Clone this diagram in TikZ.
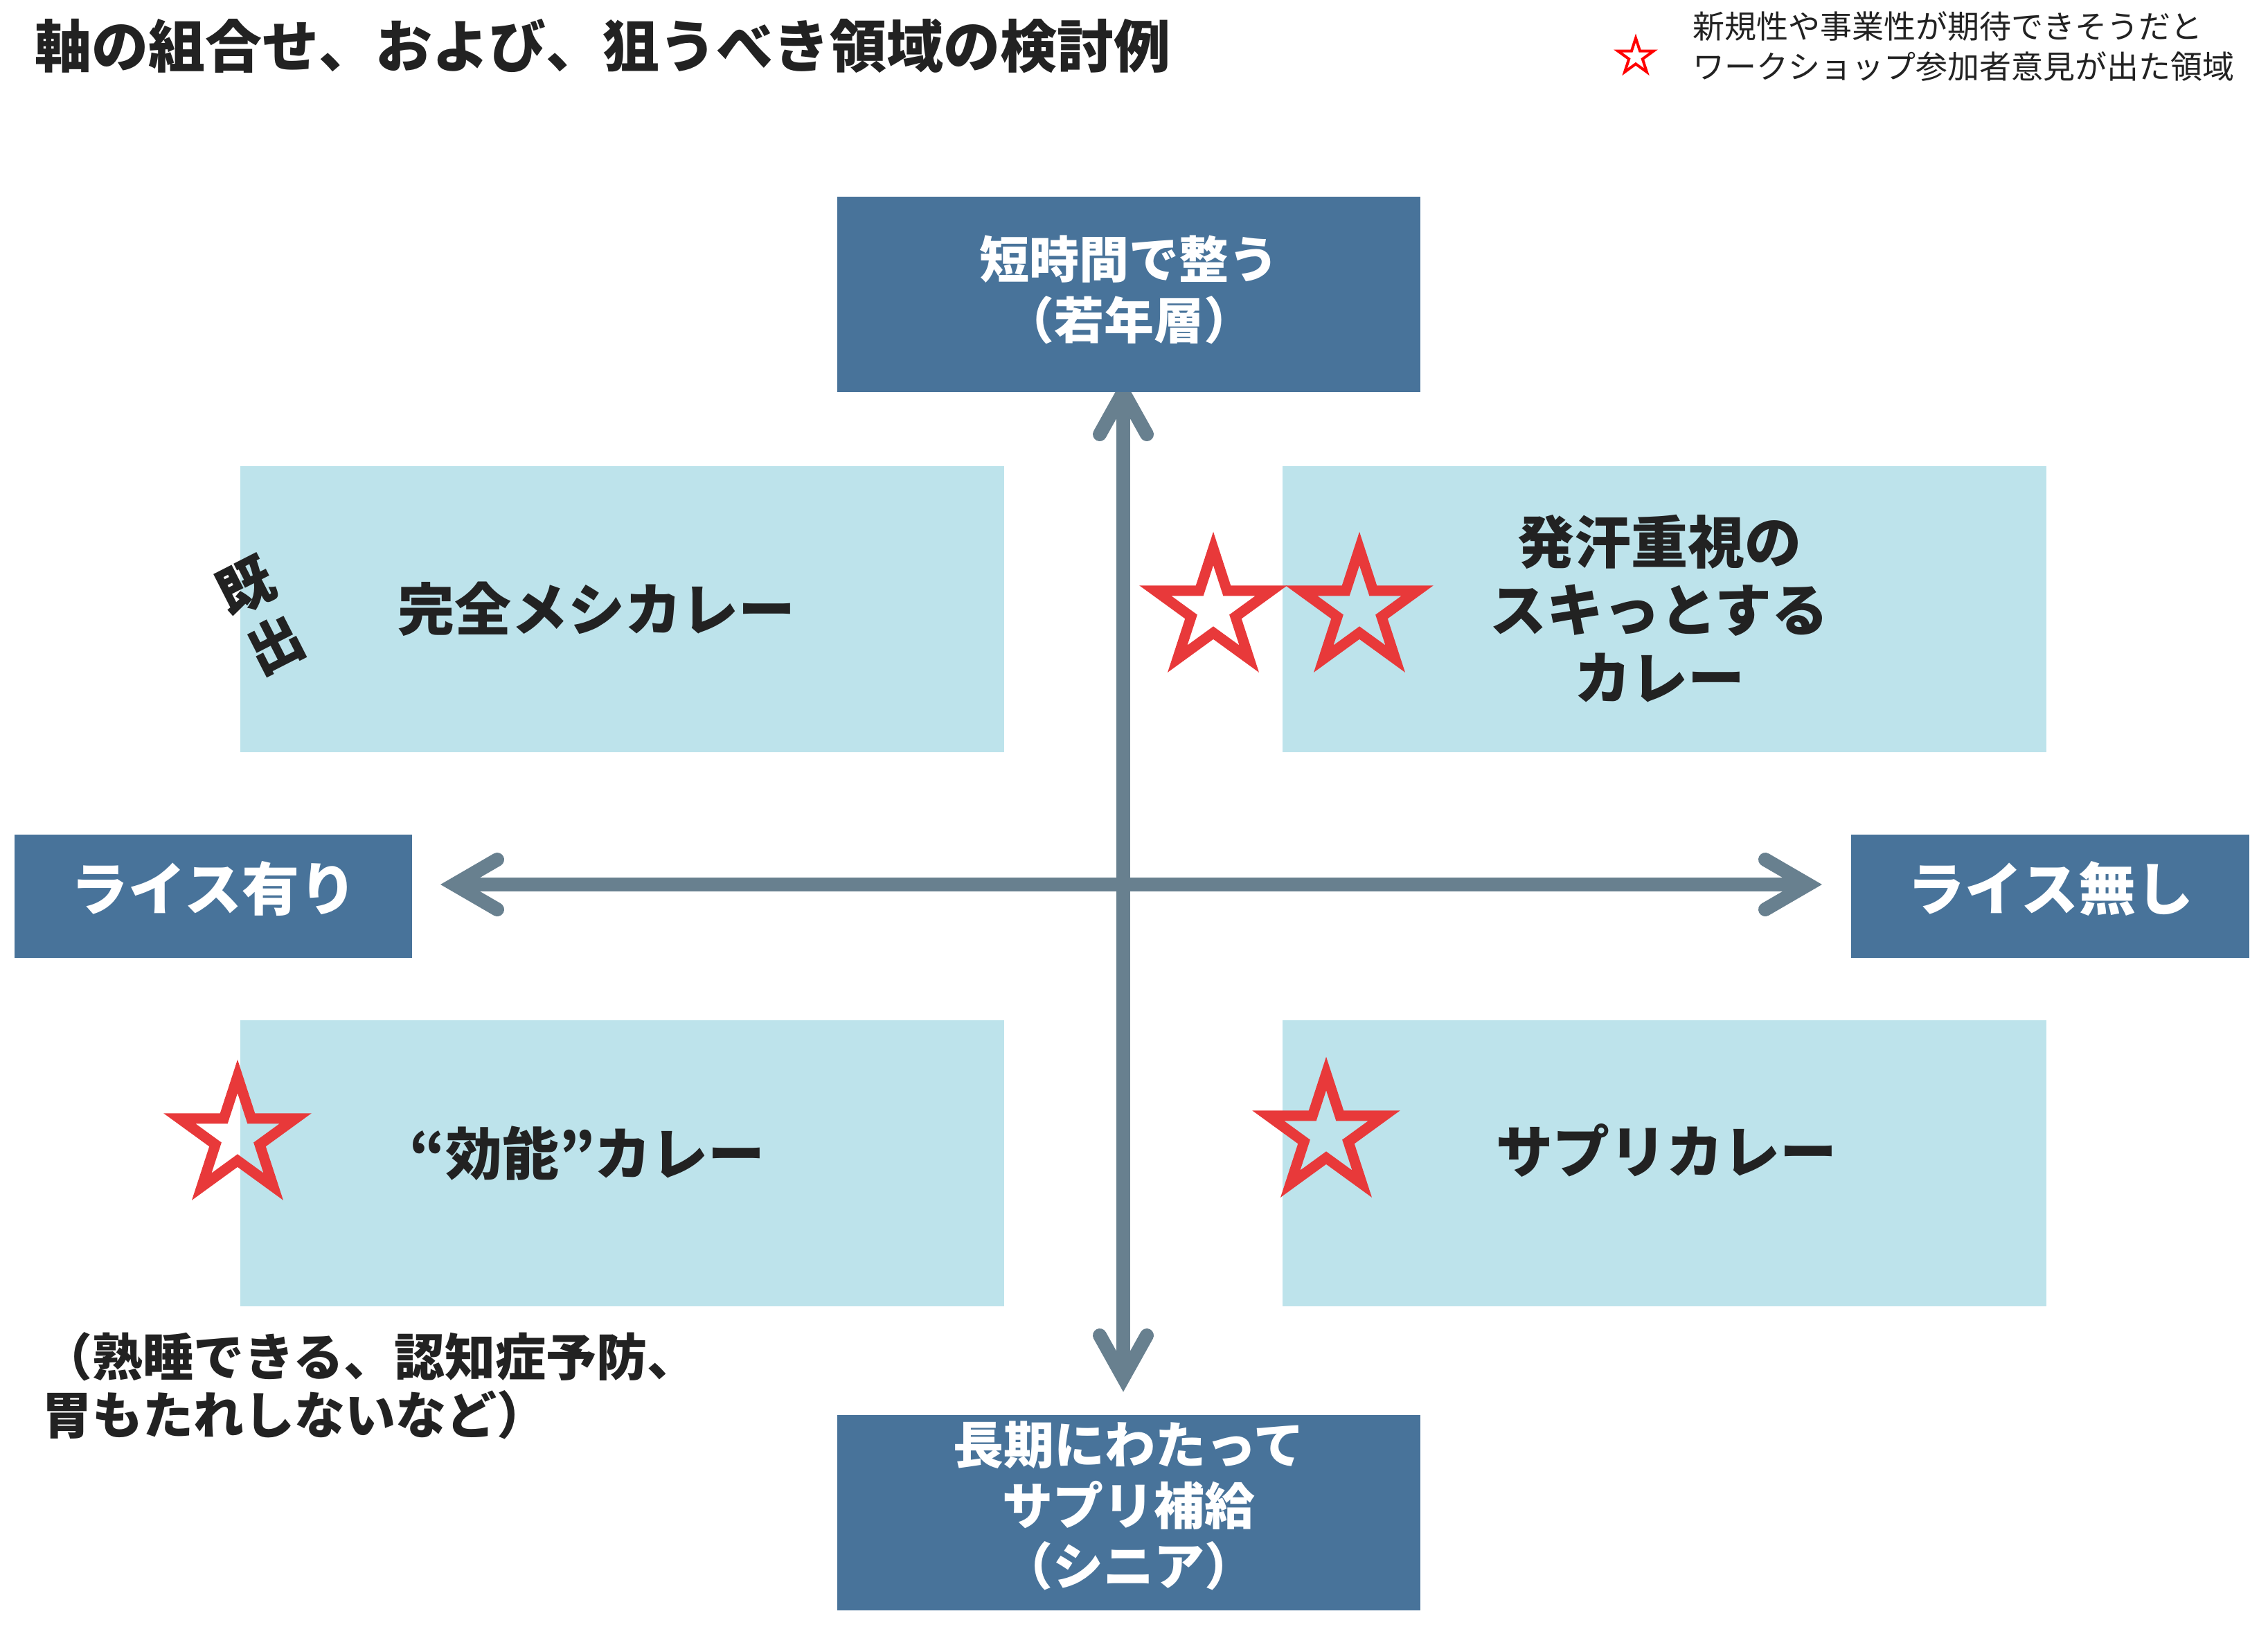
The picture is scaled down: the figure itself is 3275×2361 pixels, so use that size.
\documentclass[tikz,border=0pt]{standalone}
\usepackage{fontspec}
\setmainfont{Noto Sans CJK JP}
\usetikzlibrary{shapes.geometric}
\definecolor{darkbox}{HTML}{48739A}
\definecolor{lightbox}{HTML}{BDE3EB}
\definecolor{arrowc}{HTML}{68808F}
\definecolor{starred}{HTML}{E8393A}
\definecolor{textc}{HTML}{222222}
\newcommand\myfs[2]{\fontsize{#1pt}{#2pt}\selectfont}
\begin{document}
\begin{tikzpicture}[x=1pt,y=-1pt,
  dbox/.style={fill=darkbox,inner sep=0pt,minimum width=842pt,minimum height=282pt},
  abox/.style={fill=darkbox,inner sep=0pt,minimum width=574pt,minimum height=178pt},
  lbox/.style={fill=lightbox,inner sep=0pt,minimum width=1103pt,minimum height=413pt},
  wtext/.style={text=white,inner sep=0pt,align=center},
  qtext/.style={text=textc,font=\myfs{82}{98}\bfseries,align=center,inner sep=0pt},
  ax/.style={draw=arrowc,line width=20pt},
  chev/.style={draw=arrowc,line width=20pt,line cap=round,line join=miter},
  bigstar/.style={star,star points=5,star point ratio=2.618,draw=starred,line width=15pt,line join=miter,minimum size=176pt,inner sep=0pt}]
\useasboundingbox (0,0) rectangle (3275,2361);
\fill[white] (0,0) rectangle (3275,2361);

% title and legend
\node[anchor=west,inner sep=0pt,text=textc,font=\myfs{82}{82}\bfseries] (title) at (50,67) {軸の組合せ、および、狙うべき領域の検討例};
\node[star,star points=5,star point ratio=2.618,draw=red,line width=4pt,line join=miter,minimum size=54pt,inner sep=0pt] (lstar) at (2362,82) {};
\node[anchor=west,inner sep=0pt,align=left,text=textc,font=\myfs{46}{58}] (legend) at (2444,67) {新規性や事業性が期待できそうだと\\ワークショップ参加者意見が出た領域};

% axes
\coordinate (vt) at (1622,566);
\coordinate (vb) at (1622,1989);
\coordinate (hl) at (656,1277);
\coordinate (hr) at (2611,1277);
\draw[ax] (vt) -- (vb);
\draw[ax] (hl) -- (hr);
\draw[chev] ([shift={(-34,61)}]vt) -- (vt) -- ([shift={(34,61)}]vt);
\draw[chev] ([shift={(-34,-61)}]vb) -- (vb) -- ([shift={(34,-61)}]vb);
\draw[chev] ([shift={(62,-36)}]hl) -- (hl) -- ([shift={(62,36)}]hl);
\draw[chev] ([shift={(-62,-36)}]hr) -- (hr) -- ([shift={(-62,36)}]hr);

% axis boxes
\node[dbox] (top) at (1630,425) {};
\node[wtext,font=\myfs{72}{88}\bfseries] (toptxt) at (1630,418) {短時間で整う\\（若年層）};
\node[dbox] (bot) at (1630,2184) {};
\node[wtext,font=\myfs{73}{87.5}\bfseries] (bottxt) at (1630,2174) {長期にわたって\\サプリ補給\\（シニア）};
\node[abox] (left) at (308,1294) {};
\node[wtext,font=\myfs{83}{83}\bfseries] (lefttxt) at (309,1283) {ライス有り};
\node[abox,minimum width=575pt] (right) at (2960.5,1294) {};
\node[wtext,font=\myfs{83}{83}\bfseries] (righttxt) at (2961,1283) {ライス無し};

% quadrants
\node[lbox] (tl) at (898.5,879.5) {};
\node[lbox] (tr) at (2403.5,879.5) {};
\node[lbox] (bl) at (898.5,1679.5) {};
\node[lbox] (br) at (2403.5,1679.5) {};
\node[qtext] (tltxt) at (861,879) {完全メシカレー};
\node[qtext] (trtxt) at (2396,879) {発汗重視の\\スキっとする\\カレー};
\node[qtext] (bltxt) at (848,1665) {“効能”カレー};
\node[qtext] (brtxt) at (2406,1661) {サプリカレー};
\node[text=textc,font=\myfs{80}{94}\bfseries,align=center,inner sep=0pt,rotate=27] (kishutsu) at (376,889) {既\\出};
\node[anchor=west,inner sep=0pt,align=left,text=textc,font=\myfs{73}{84}\bfseries] (note) at (60,2001) {（熟睡できる、認知症予防、\\胃もたれしないなど）};

% stars
\node[bigstar] (s1) at (1752,880) {};
\node[bigstar] (s2) at (1963,880) {};
\node[bigstar] (s3) at (343,1642) {};
\node[bigstar] (s4) at (1915,1638) {};
\end{tikzpicture}
\end{document}
